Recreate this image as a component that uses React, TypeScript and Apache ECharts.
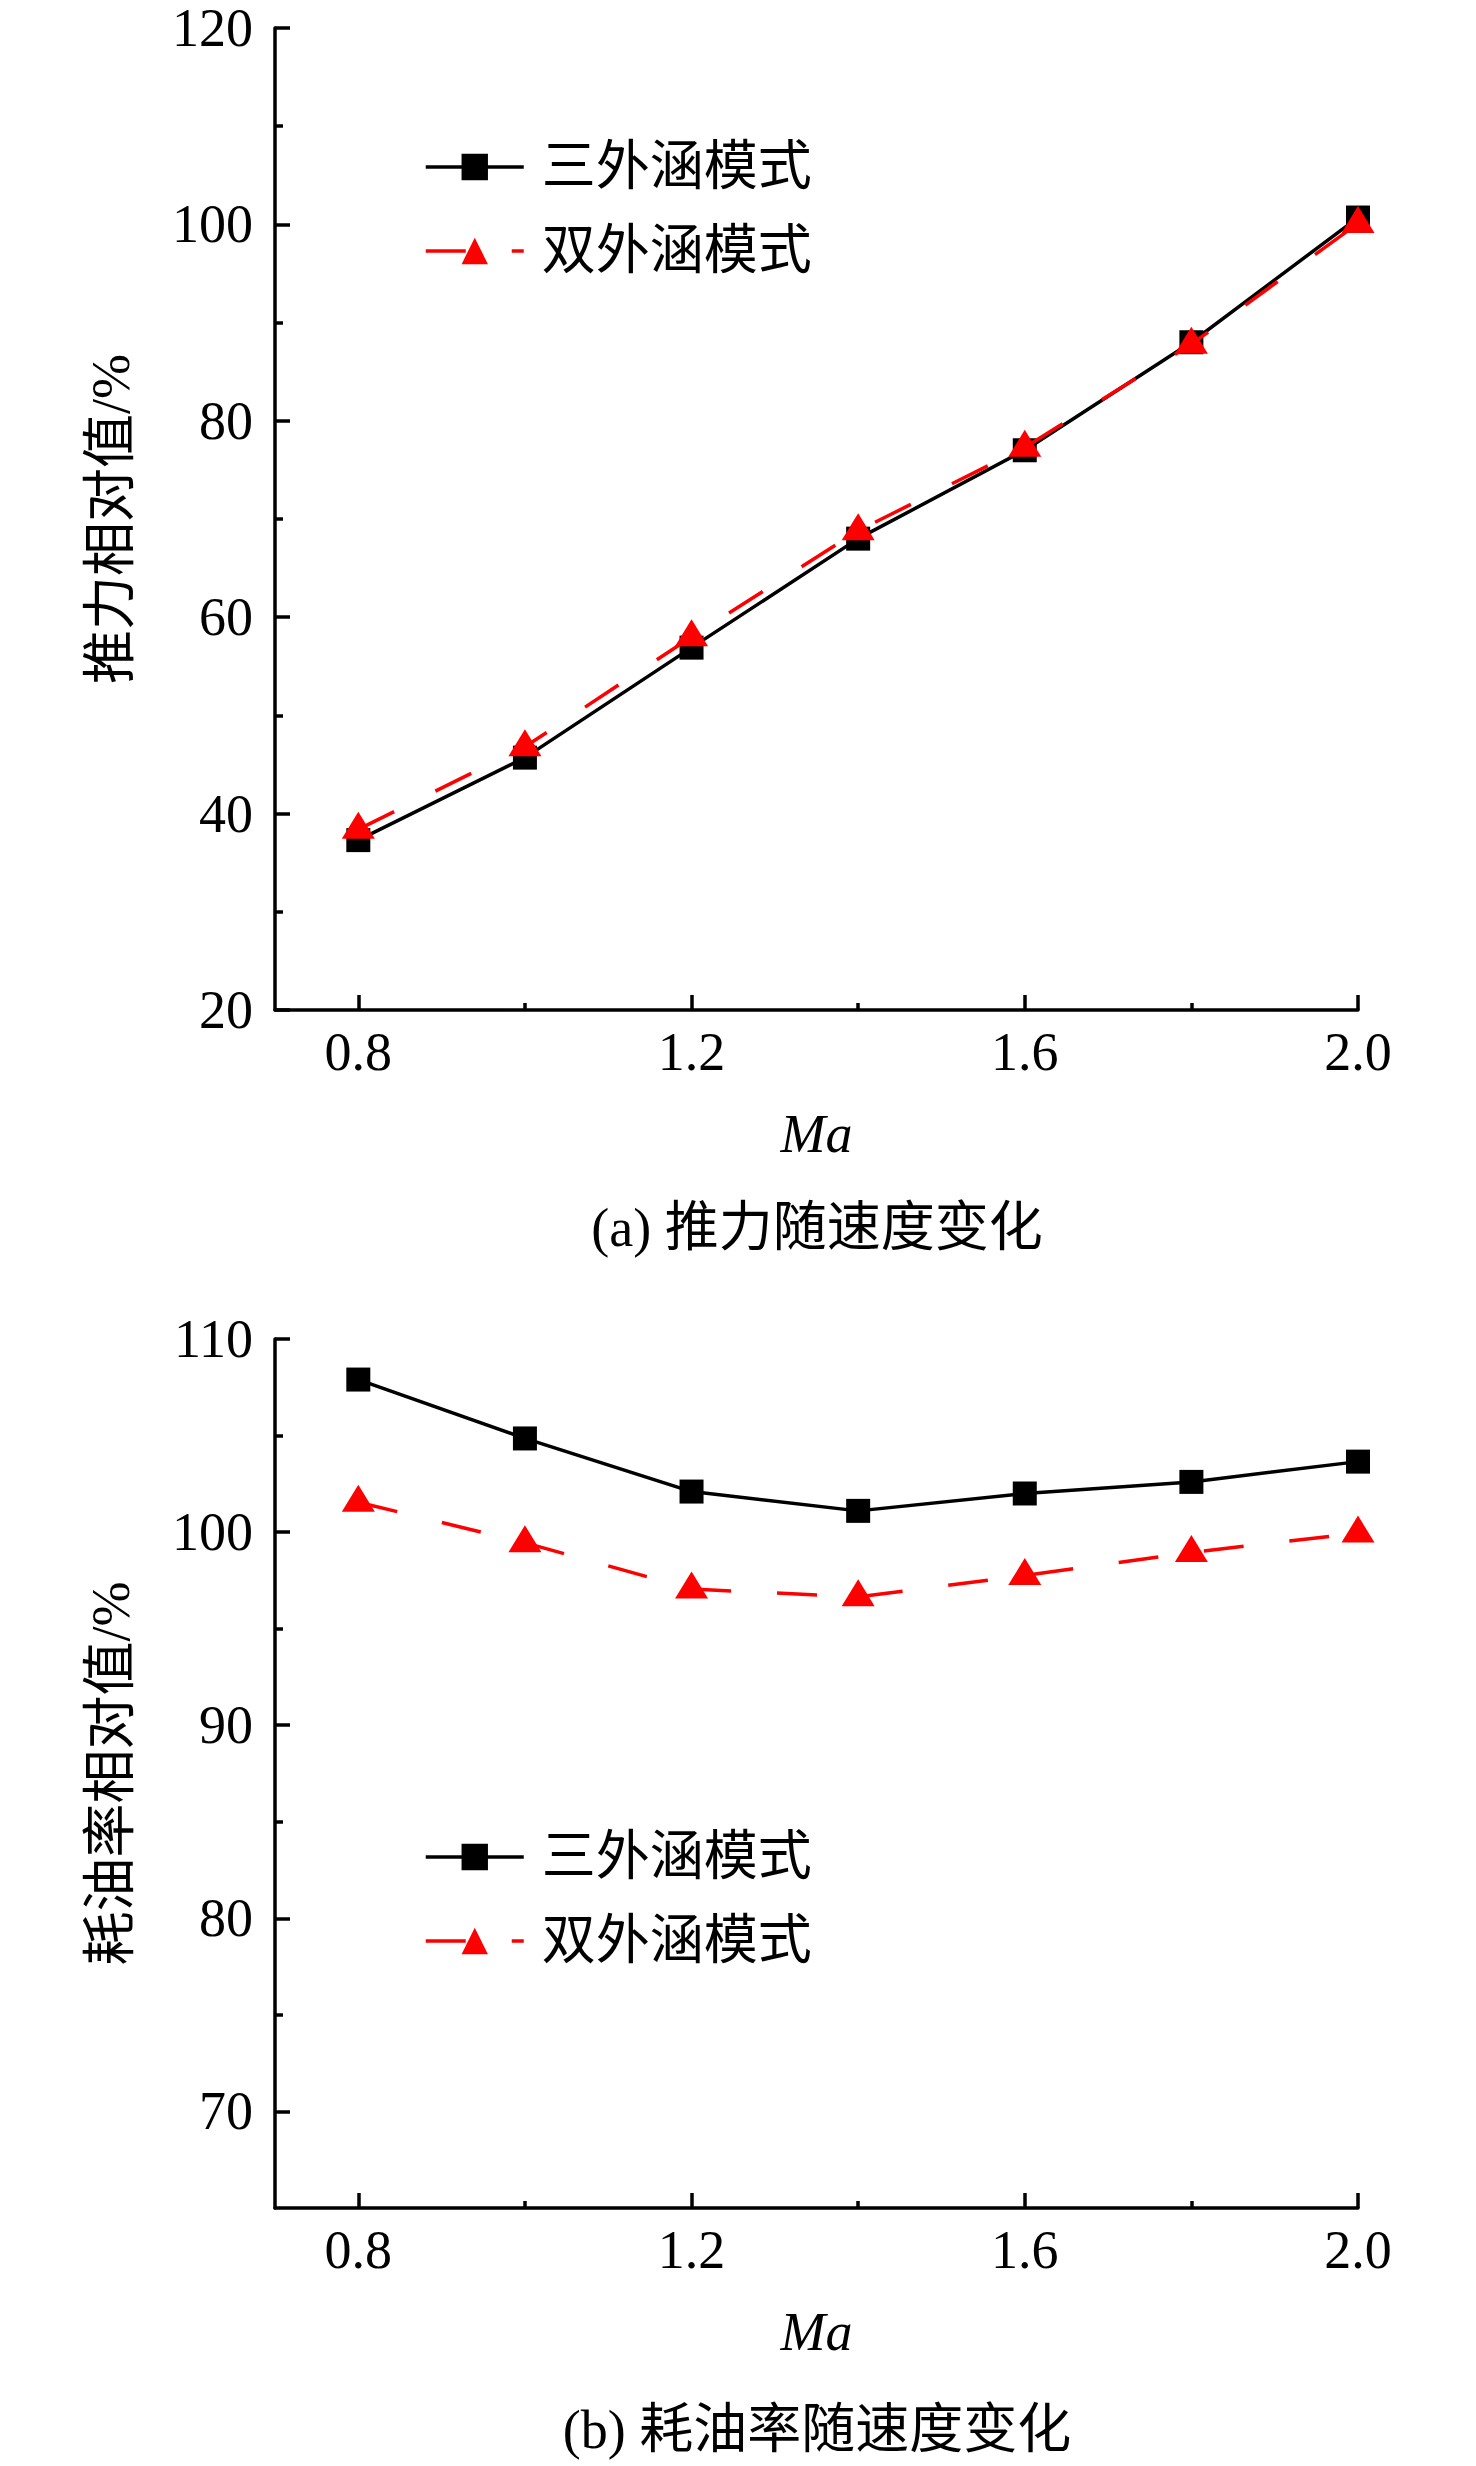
import { useEffect, useRef } from 'react';
import * as echarts from 'echarts';

// Mach numbers (shared x values)
const machNumbers = [0.8, 1.0, 1.2, 1.4, 1.6, 1.8, 2.0];

// (a) thrust relative value, %
const thrustTriple = [37.3, 45.7, 56.9, 68.0, 77.0, 88.0, 100.7];
const thrustDouble = [38.4, 46.8, 58.0, 68.8, 77.3, 87.8, 100.1];

// (b) fuel consumption relative value, %
const sfcTriple = [107.9, 104.85, 102.1, 101.1, 102.0, 102.6, 103.65];
const sfcDouble = [101.55, 99.45, 97.05, 96.65, 97.75, 98.95, 99.95];

const seriesNames = ['三外涵模式', '双外涵模式'];
const xMajorTicks = [0.8, 1.2, 1.6, 2.0];
const xMinorTicks = [1.0, 1.4, 1.8];
const sfcMajorTicks = [70, 80, 90, 100, 110];
const sfcMinorTicks = [75, 85, 95, 105];

const FONT = "'Times New Roman', 'Liberation Serif', 'Noto Sans CJK SC', serif";
const FS = 54;
const LW = 3.5;

const pairs = (ys: number[]) => machNumbers.map((m, i) => [m, ys[i]]);

function majorX(gridIndex: number) {
  return {
    gridIndex,
    type: 'value',
    min: 0.7,
    max: 2.0,
    position: 'bottom',
    name: 'Ma',
    nameLocation: 'middle',
    nameGap: 97,
    nameTextStyle: { fontSize: FS, fontFamily: FONT, fontStyle: 'italic', color: '#000' },
    axisLine: { show: true, onZero: false, lineStyle: { color: '#000', width: LW } },
    axisTick: { show: true, inside: true, length: 15, customValues: xMajorTicks, lineStyle: { color: '#000', width: LW } },
    axisLabel: {
      show: true,
      customValues: xMajorTicks,
      margin: 15,
      fontSize: FS,
      fontFamily: FONT,
      color: '#000',
      formatter: (v: number) => v.toFixed(1),
    },
    splitLine: { show: false },
  };
}

function minorX(gridIndex: number) {
  return {
    gridIndex,
    type: 'value',
    min: 0.7,
    max: 2.0,
    position: 'bottom',
    axisLine: { show: false, onZero: false },
    axisTick: { show: true, inside: true, length: 7, customValues: xMinorTicks, lineStyle: { color: '#000', width: LW } },
    axisLabel: { show: false },
    splitLine: { show: false },
  };
}

function yName(name: string) {
  return {
    name,
    nameLocation: 'middle',
    nameGap: 137,
    nameTextStyle: { fontSize: FS, fontFamily: FONT, color: '#000' },
  };
}

const yLabel = { fontSize: FS, fontFamily: FONT, color: '#000', margin: 22, lineHeight: 46 };

function lineSeries(name: string, xAxisIndex: number, yAxisIndex: number, ys: number[]) {
  const triple = name === seriesNames[0];
  const color = triple ? '#000000' : '#ff0000';
  return {
    name,
    type: 'line',
    xAxisIndex,
    yAxisIndex,
    data: pairs(ys),
    clip: false,
    symbol: triple ? 'rect' : 'triangle',
    symbolSize: triple ? 24 : [33, 27],
    symbolOffset: triple ? [0, 0] : [0, -4],
    itemStyle: { color },
    lineStyle: { color, width: LW, type: triple ? 'solid' : [40, 46] },
    z: triple ? 2 : 3,
  };
}

function legend(top: number) {
  return {
    data: seriesNames,
    orient: 'vertical',
    left: 424,
    top,
    padding: 0,
    itemWidth: 98,
    itemHeight: 33,
    itemGap: 24,
    selectedMode: false,
    lineStyle: { width: LW },
    textStyle: { fontSize: FS, fontFamily: FONT, color: '#000', lineHeight: 60, padding: [0, 0, 0, 13] },
  };
}

function caption(text: string, y: number) {
  return {
    type: 'text',
    x: 817,
    y,
    style: {
      text,
      fontSize: FS,
      fontFamily: FONT,
      fill: '#000',
      align: 'center',
      verticalAlign: 'middle',
    },
  };
}

export default function App() {
  const chartRef = useRef<HTMLDivElement>(null);

  useEffect(() => {
    document.body.style.margin = '0';
    if (!chartRef.current) return;
    const chart = echarts.init(chartRef.current, undefined, { renderer: 'svg' });

    const option: any = {
      animation: false,
      backgroundColor: '#ffffff',
      grid: [
        { left: 275, top: 28, width: 1083, height: 982, outerBoundsMode: 'none' },
        { left: 275, top: 1339, width: 1083, height: 869, outerBoundsMode: 'none' },
      ],
      xAxis: [majorX(0), minorX(0), majorX(1), minorX(1)],
      yAxis: [
        {
          gridIndex: 0,
          type: 'value',
          min: 20,
          max: 120,
          interval: 20,
          ...yName('推力相对值/%'),
          axisLine: { show: true, lineStyle: { color: '#000', width: LW } },
          axisTick: { show: true, inside: true, length: 15, lineStyle: { color: '#000', width: LW } },
          minorTick: { show: true, splitNumber: 2, length: 8, lineStyle: { color: '#000', width: LW } },
          axisLabel: yLabel,
          splitLine: { show: false },
        },
        {
          gridIndex: 1,
          type: 'value',
          min: 65,
          max: 110,
          ...yName('耗油率相对值/%'),
          axisLine: { show: true, lineStyle: { color: '#000', width: LW } },
          axisTick: { show: true, inside: true, length: 15, customValues: sfcMajorTicks, lineStyle: { color: '#000', width: LW } },
          axisLabel: { ...yLabel, customValues: sfcMajorTicks },
          splitLine: { show: false },
        },
        {
          gridIndex: 1,
          type: 'value',
          min: 65,
          max: 110,
          position: 'left',
          axisLine: { show: false },
          axisTick: { show: true, inside: true, length: 8, customValues: sfcMinorTicks, lineStyle: { color: '#000', width: LW } },
          axisLabel: { show: false },
          splitLine: { show: false },
        },
      ],
      legend: [legend(137), legend(1827)],
      series: [
        lineSeries(seriesNames[0], 0, 0, thrustTriple),
        lineSeries(seriesNames[1], 0, 0, thrustDouble),
        lineSeries(seriesNames[0], 2, 1, sfcTriple),
        lineSeries(seriesNames[1], 2, 1, sfcDouble),
      ],
      graphic: [caption('(a) 推力随速度变化', 1228), caption('(b) 耗油率随速度变化', 2430)],
    };

    chart.setOption(option);
    return () => {
      chart.dispose();
    };
  }, []);

  return <div ref={chartRef} style={{ width: 1476, height: 2466 }} />;
}
